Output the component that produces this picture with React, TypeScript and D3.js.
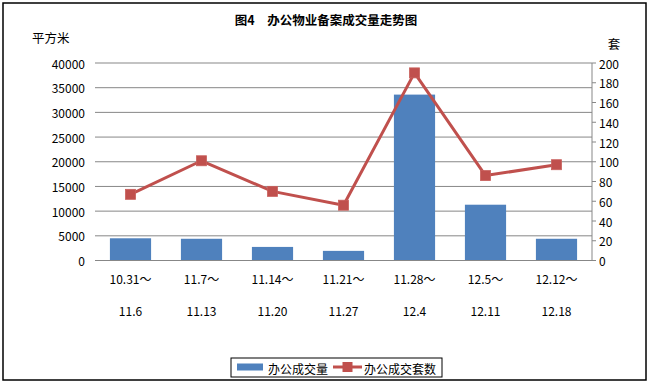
import React from 'react';
import * as d3 from 'd3';

// 周期（两行标签）
const periodStart = ['10.31～', '11.7～', '11.14～', '11.21～', '11.28～', '12.5～', '12.12～'];
const periodEnd = ['11.6', '11.13', '11.20', '11.27', '12.4', '12.11', '12.18'];
// 办公成交量（平方米）
const areaValues = [4500, 4400, 2750, 1950, 33600, 11300, 4400];
// 办公成交套数（套）
const unitValues = [67, 101, 70, 56, 190, 86, 97];

const leftTicks = [0, 5000, 10000, 15000, 20000, 25000, 30000, 35000, 40000];
const rightTicks = [0, 20, 40, 60, 80, 100, 120, 140, 160, 180, 200];

const W = 651;
const H = 385;
const plot = { left: 95, right: 592, top: 63, bottom: 260.5 };
const FONT = '"Noto Sans CJK SC", "DejaVu Sans", sans-serif';
const BLUE = '#4F81BD';
const RED = '#C0504D';
const GRID = '#878787';

const App = () => {
  const x = d3.scaleBand<number>()
    .domain(d3.range(periodStart.length))
    .range([plot.left, plot.right])
    .padding(0);
  const yL = d3.scaleLinear().domain([0, 40000]).range([plot.bottom, plot.top]);
  const yR = d3.scaleLinear().domain([0, 200]).range([plot.bottom, plot.top]);

  const barW = x.bandwidth() * 0.58;
  const cx = (i: number) => (x(i) as number) + x.bandwidth() / 2;

  const line = d3.line<number>()
    .x((_, i) => cx(i))
    .y(d => yR(d));

  return (
    <div style={{ position: 'absolute', left: 0, top: 0 }}>
      <svg width={W} height={H} style={{ display: 'block' }} fontFamily={FONT}>
        <rect x={0} y={0} width={W} height={H} fill="white" />
        <rect x={3} y={3} width={643} height={377} fill="none" stroke="#000" strokeWidth={1.5} />

        <text x={326} y={19} textAnchor="middle" dominantBaseline="central" fontSize={12.5} fontWeight="bold">
          图4　办公物业备案成交量走势图
        </text>
        <text x={32} y={37} dominantBaseline="central" fontSize={12.5}>平方米</text>
        <text x={614} y={43} textAnchor="middle" dominantBaseline="central" fontSize={12.5}>套</text>

        {/* 网格线 */}
        {leftTicks.map(t => (
          <line key={t} x1={plot.left} x2={plot.right} y1={yL(t)} y2={yL(t)} stroke={GRID} strokeWidth={1} />
        ))}

        {/* 左轴标签 */}
        {leftTicks.map(t => (
          <text key={'l' + t} x={85} y={yL(t)} textAnchor="end" dominantBaseline="central" fontSize={12}>
            {t}
          </text>
        ))}

        {/* 右轴 */}
        <line x1={plot.right} x2={plot.right} y1={plot.top} y2={plot.bottom} stroke={GRID} />
        {rightTicks.map(t => (
          <g key={'r' + t}>
            <line x1={plot.right} x2={plot.right + 4} y1={yR(t)} y2={yR(t)} stroke={GRID} />
            <text x={599} y={yR(t)} dominantBaseline="central" fontSize={12}>{t}</text>
          </g>
        ))}

        {/* 柱 */}
        {areaValues.map((v, i) => (
          <rect key={'b' + i} x={cx(i) - barW / 2} y={yL(v)} width={barW} height={plot.bottom - yL(v) - 0.5} fill={BLUE} />
        ))}

        <line x1={plot.left} x2={plot.right} y1={plot.bottom} y2={plot.bottom} stroke={GRID} />

        {/* 折线 */}
        <path d={line(unitValues) || ''} fill="none" stroke={RED} strokeWidth={3} strokeLinejoin="round" />
        {unitValues.map((v, i) => (
          <rect key={'m' + i} x={cx(i) - 5} y={yR(v) - 5} width={10} height={10} fill={RED} stroke="#C9605D" strokeWidth={0.8} />
        ))}

        {/* X 轴标签 */}
        {periodStart.map((s, i) => (
          <g key={'x' + i}>
            <text x={cx(i)} y={278} textAnchor="middle" dominantBaseline="central" fontSize={12}>{s}</text>
            <text x={cx(i)} y={310} textAnchor="middle" dominantBaseline="central" fontSize={12}>{periodEnd[i]}</text>
          </g>
        ))}

        {/* 图例 */}
        <rect x={231} y={358} width={211} height={19} fill="white" stroke="#000" strokeWidth={1} />
        <rect x={237} y={363.5} width={26} height={7} fill={BLUE} />
        <text x={268} y={368} dominantBaseline="central" fontSize={12}>办公成交量</text>
        <line x1={333} x2={362} y1={367} y2={367} stroke={RED} strokeWidth={3} />
        <rect x={342.5} y={362} width={10} height={10} fill={RED} />
        <text x={364} y={368} dominantBaseline="central" fontSize={12}>办公成交套数</text>
      </svg>
    </div>
  );
};

export default App;
